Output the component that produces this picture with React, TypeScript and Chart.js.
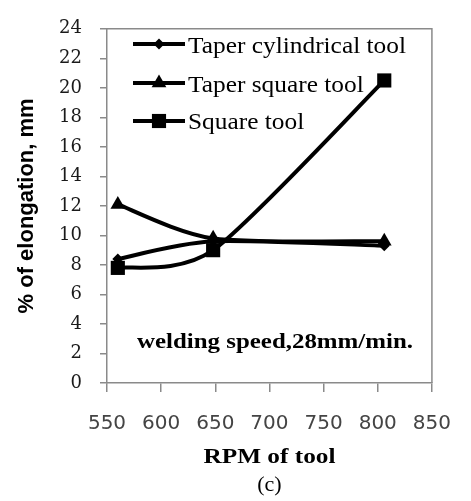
import React, { useEffect, useRef } from "react";
import { Chart, registerables } from "chart.js";

Chart.register(...registerables);

const rpm = [560, 648, 806];
const taperCylindrical = [8.4, 9.6, 9.3];
const taperSquare = [12.1, 9.8, 9.6];
const squareTool = [7.8, 9.0, 20.5];
const seriesNames = ["Taper cylindrical tool", "Taper square tool", "Square tool"];
const xTicks = [550, 600, 650, 700, 750, 800, 850];
const yTicks = [0, 2, 4, 6, 8, 10, 12, 14, 16, 18, 20, 22, 24];
const yTitle = "% of elongation, mm";
const xTitle = "RPM of tool";
const caption = "(c)";
const note = "welding speed,28mm/min.";

const SERIF = "'Liberation Serif', 'DejaVu Serif', serif";
const SANS = "'Liberation Sans', Arial, sans-serif";

const styles = [
  { pointStyle: "rectRot", radius: 5.5 },
  { pointStyle: "triangle", radius: 8.5 },
  { pointStyle: "rect", radius: 10 },
];

function drawMarker(ctx: CanvasRenderingContext2D, style: string, r: number, x: number, y: number) {
  ctx.beginPath();
  if (style === "rect") {
    const s = r * Math.SQRT1_2;
    ctx.rect(x - s, y - s, 2 * s, 2 * s);
  } else if (style === "rectRot") {
    ctx.moveTo(x, y - r);
    ctx.lineTo(x + r, y);
    ctx.lineTo(x, y + r);
    ctx.lineTo(x - r, y);
    ctx.closePath();
  } else {
    const w = r * Math.cos(Math.PI / 6);
    ctx.moveTo(x, y - r);
    ctx.lineTo(x + w, y + r / 2);
    ctx.lineTo(x - w, y + r / 2);
    ctx.closePath();
  }
  ctx.fill();
}

// draw text stretched horizontally by factor sx (to mimic a wider typeface)
function stretchText(ctx: CanvasRenderingContext2D, text: string, x: number, y: number, sx: number) {
  ctx.save();
  ctx.translate(x, y);
  ctx.scale(sx, 1);
  ctx.fillText(text, 0, 0);
  ctx.restore();
}

// Excel-like smoothing (uniform Catmull-Rom style) applied to the library's own line elements
const SMOOTH = 0.13;
const smoothing = {
  id: "excelSmooth",
  beforeDatasetDraw(chart: any, args: any) {
    const meta = chart.getDatasetMeta(args.index);
    const line = meta.dataset;
    if (!line) return;
    line.updateControlPoints(chart.chartArea, "x");
    const pts = meta.data;
    const n = pts.length;
    for (let i = 0; i < n; i++) {
      const p = pts[i];
      const prev = pts[Math.max(0, i - 1)];
      const next = pts[Math.min(n - 1, i + 1)];
      const dx = (next.x - prev.x) * SMOOTH;
      const dy = (next.y - prev.y) * SMOOTH;
      p.cp1x = p.x - dx;
      p.cp1y = p.y - dy;
      p.cp2x = p.x + dx;
      p.cp2y = p.y + dy;
    }
    line._path = undefined;
  },
};

const extras = {
  id: "extras",
  afterDraw(chart: any) {
    const { ctx, chartArea } = chart;
    const { left, right, top, bottom } = chartArea;
    ctx.save();
    ctx.strokeStyle = "#8a8a8a";
    ctx.lineWidth = 1.5;
    ctx.beginPath();
    ctx.moveTo(left, top);
    ctx.lineTo(right, top);
    ctx.lineTo(right, bottom);
    ctx.stroke();

    // legend
    const lineY = [44, 83, 121];
    const textY = [52.5, 91.5, 129];
    ctx.font = `23px ${SERIF}`;
    const legendScale = 218 / ctx.measureText(seriesNames[0]).width;
    seriesNames.forEach((name, i) => {
      const y = lineY[i];
      ctx.strokeStyle = "#000";
      ctx.lineWidth = 4;
      ctx.beginPath();
      ctx.moveTo(133, y);
      ctx.lineTo(185, y);
      ctx.stroke();
      ctx.fillStyle = "#000";
      drawMarker(ctx, styles[i].pointStyle, styles[i].radius, 159, y);
      ctx.font = `23px ${SERIF}`;
      ctx.textAlign = "left";
      ctx.textBaseline = "alphabetic";
      stretchText(ctx, name, 188, textY[i], legendScale);
    });

    // annotation
    ctx.fillStyle = "#000";
    ctx.font = `bold 22px ${SERIF}`;
    ctx.textAlign = "left";
    ctx.textBaseline = "alphabetic";
    stretchText(ctx, note, 137, 348, 276 / ctx.measureText(note).width);

    // x title and caption
    const cx = (left + right) / 2;
    ctx.font = `bold 22px ${SERIF}`;
    ctx.textAlign = "center";
    stretchText(ctx, xTitle, cx, 463, 132 / ctx.measureText(xTitle).width);
    ctx.font = `22px ${SERIF}`;
    ctx.textBaseline = "middle";
    ctx.fillText(caption, cx, 485);

    // y title
    ctx.translate(27, (top + bottom) / 2);
    ctx.rotate(-Math.PI / 2);
    ctx.font = `bold 22px ${SANS}`;
    ctx.textAlign = "center";
    ctx.textBaseline = "middle";
    ctx.fillText(yTitle, 0, 0);
    ctx.restore();
  },
};

export default function App() {
  const ref = useRef<HTMLCanvasElement>(null);
  useEffect(() => {
    const series = [taperCylindrical, taperSquare, squareTool];
    const chart = new Chart(ref.current!, {
      type: "line",
      data: {
        datasets: series.map((vals, i) => ({
          label: seriesNames[i],
          data: vals.map((v, j) => ({ x: rpm[j], y: v })),
          borderColor: "#000",
          backgroundColor: "#000",
          borderWidth: 4,
          pointStyle: styles[i].pointStyle as any,
          pointRadius: styles[i].radius,
          pointBorderWidth: 0,
          pointBackgroundColor: "#000",
          tension: 0.4,
          clip: false as any,
        })),
      },
      options: {
        responsive: false,
        animation: false,
        devicePixelRatio: 1,
        layout: { padding: { left: 0, top: 22, right: 23, bottom: 0 } },
        plugins: { legend: { display: false }, tooltip: { enabled: false } },
        scales: {
          x: {
            type: "linear",
            min: 550,
            max: 850,
            afterFit: (s: any) => {
              s.height = 118;
            },
            afterBuildTicks: (s: any) => {
              s.ticks = xTicks.map((v) => ({ value: v }));
            },
            border: { color: "#8a8a8a", width: 1.5 },
            grid: { drawOnChartArea: false, color: "#8a8a8a", tickLength: 9, lineWidth: 1.5 },
            ticks: {
              padding: 20,
              color: "#444",
              font: { family: "'DejaVu Sans', sans-serif", size: 20 },
            },
          },
          y: {
            min: 0,
            max: 24,
            afterFit: (s: any) => {
              s.width = 107;
            },
            afterBuildTicks: (s: any) => {
              s.ticks = yTicks.map((v) => ({ value: v }));
            },
            border: { color: "#8a8a8a", width: 1.5 },
            grid: { drawOnChartArea: false, color: "#8a8a8a", tickLength: 7, lineWidth: 1.5 },
            ticks: {
              padding: 18,
              color: "#1a1a1a",
              font: { family: "'DejaVu Serif', serif", size: 18 },
            },
          },
        },
      },
      plugins: [smoothing, extras],
    });
    return () => chart.destroy();
  }, []);
  return (
    <div style={{ position: "absolute", left: 0, top: 0, width: 471, height: 501, background: "#fff" }}>
      <canvas ref={ref} width={471} height={501} />
    </div>
  );
}
